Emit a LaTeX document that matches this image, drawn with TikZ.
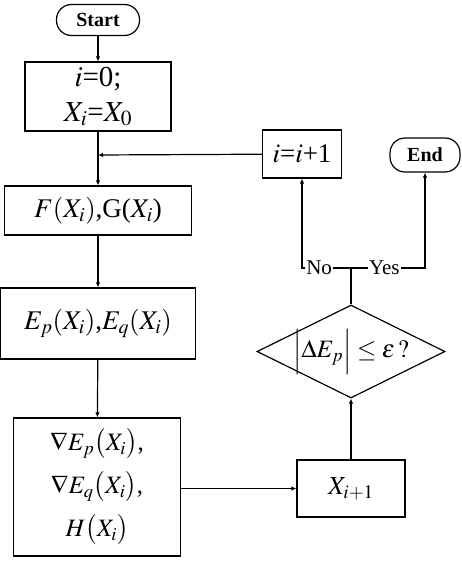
\documentclass[tikz,border=0pt]{standalone}
\usepackage{mathptmx}
\usepackage[no-math]{fontspec}
\setmainfont{Liberation Serif}
\usetikzlibrary{arrows.meta,shapes.geometric}

\tikzset{
  flow/.style={draw, line width=1.2pt, inner sep=0pt, align=center},
  term/.style={flow, rounded corners=15pt, font=\fontsize{20}{22}\selectfont\bfseries},
  stepbox/.style={flow, font=\fontsize{27}{32}\selectfont},
  cond/.style={flow, diamond, inner sep=-14pt, font=\fontsize{25}{30}\selectfont},
  conn/.style={line width=1.2pt, -{Latex[length=5pt,width=4.5pt]}},
  wire/.style={line width=1.2pt},
  tag/.style={fill=white, inner sep=1pt, font=\fontsize{21}{24}\selectfont}
}

\begin{document}
\begin{tikzpicture}[x=1pt, y=-1pt]
  \useasboundingbox (0,0) rectangle (461,562);

  % main column
  \node[term, minimum width=83pt, minimum height=31pt] (start) at (98,20) {Start};
  \node[stepbox, minimum width=146pt, minimum height=69pt, font=\fontsize{29}{35}\selectfont] (init) at (98,96.5)
    {$i$=0;\\$X_i$=$X_0$};
  \node[stepbox, minimum width=187pt, minimum height=49pt] (fg) at (98,210.5)
    {$F(X_i)$,G($X_i$)};
  \node[stepbox, minimum width=195pt, minimum height=71pt] (epq) at (98,323.5)
    {$E_p(X_i)$,$E_q(X_i)$};
  \node[stepbox, minimum width=167pt, minimum height=138pt, font=\fontsize{25}{30}\selectfont] (grad) at (97,487)
    {$\nabla E_p\big(X_i\big)$,\\[13pt]$\nabla E_q\big(X_i\big)$,\\[13pt]$H\big(X_i\big)$};

  % right column
  \node[stepbox, minimum width=108pt, minimum height=57pt, font=\fontsize{26}{30}\selectfont] (xnext) at (351,488.5) {$X_{i+1}$};
  \node[cond, minimum width=188pt, minimum height=93pt, aspect=2] (check) at (351,351.5)
    {$\Big|\Delta E_p\Big|\le\varepsilon\,?$};
  \node[stepbox, minimum width=79pt, minimum height=48pt] (inc) at (302,154) {$i$=$i$+1};
  \node[term, minimum width=70pt, minimum height=34pt] (end) at (425,155) {End};

  \coordinate (join) at (98,155);
  \coordinate (split) at (351,268);

  % connectors
  \draw[conn] (start) -- (init);
  \draw[conn] (init) -- (fg);
  \draw[conn] (inc) -- (join);
  \draw[conn] (fg) -- (epq);
  \draw[conn] (epq) -- (grad);
  \draw[conn] (grad.east |- xnext) -- (xnext);
  \draw[conn] (xnext) -- (check);
  \draw[wire] (check) -- (split);
  \draw[conn] (split) -- node[tag, pos=0.65] {No} (split -| inc) -- (inc);
  \draw[conn] (split) -- node[tag, pos=0.45] {Yes} (split -| end) -- (end);
\end{tikzpicture}
\end{document}
